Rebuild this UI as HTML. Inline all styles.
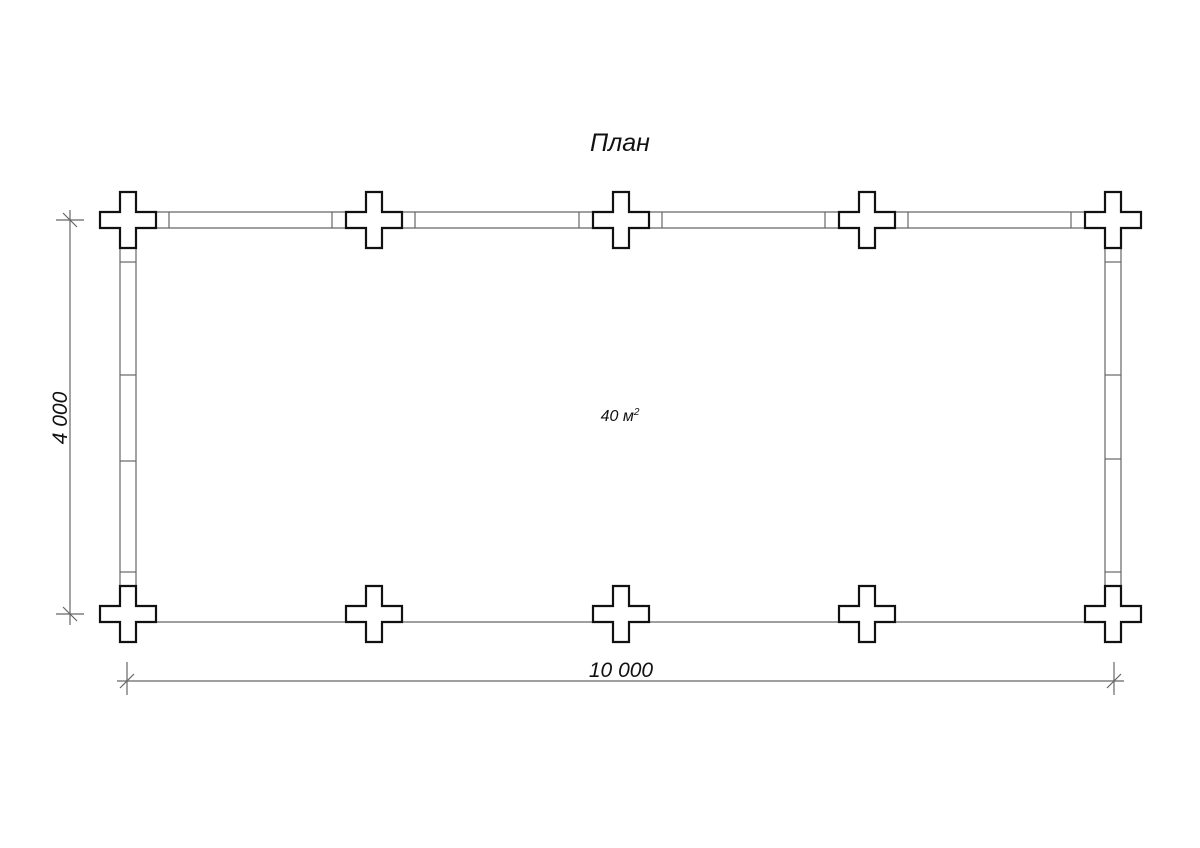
<!DOCTYPE html>
<html><head><meta charset="utf-8"><style>body{margin:0;background:#fff}svg{display:block}</style></head>
<body><svg width="1200" height="848" xmlns="http://www.w3.org/2000/svg">
<defs><path id="c" d="M-8,-28 h16 v20 h20 v16 h-20 v20 h-16 v-20 h-20 v-16 h20 z" fill="#fff" stroke="#111" stroke-width="2.2"/></defs>
<g stroke="#666" stroke-width="1.2" fill="none">
<line x1="156" y1="212" x2="1085" y2="212"/><line x1="156" y1="228" x2="1085" y2="228"/>
<line x1="169" y1="212" x2="169" y2="228"/><line x1="332" y1="212" x2="332" y2="228"/>
<line x1="415" y1="212" x2="415" y2="228"/><line x1="579" y1="212" x2="579" y2="228"/>
<line x1="662" y1="212" x2="662" y2="228"/><line x1="825" y1="212" x2="825" y2="228"/>
<line x1="908" y1="212" x2="908" y2="228"/><line x1="1071" y1="212" x2="1071" y2="228"/>
<line x1="120" y1="248" x2="120" y2="587"/><line x1="136" y1="248" x2="136" y2="587"/>
<line x1="120" y1="262" x2="136" y2="262"/><line x1="120" y1="375" x2="136" y2="375"/><line x1="120" y1="461" x2="136" y2="461"/><line x1="120" y1="572" x2="136" y2="572"/>
<line x1="1105" y1="248" x2="1105" y2="587"/><line x1="1121" y1="248" x2="1121" y2="587"/>
<line x1="1105" y1="262" x2="1121" y2="262"/><line x1="1105" y1="375" x2="1121" y2="375"/><line x1="1105" y1="459" x2="1121" y2="459"/><line x1="1105" y1="572" x2="1121" y2="572"/>
<line x1="136" y1="622" x2="1105" y2="622"/>
<line x1="70" y1="210" x2="70" y2="625"/><line x1="56" y1="220" x2="84" y2="220"/><line x1="56" y1="614" x2="84" y2="614"/>
<line x1="63" y1="213" x2="77" y2="227"/><line x1="63" y1="607" x2="77" y2="621"/>
<line x1="117" y1="681" x2="1124" y2="681"/><line x1="127" y1="662" x2="127" y2="695"/><line x1="1114" y1="662" x2="1114" y2="695"/>
<line x1="120" y1="688" x2="134" y2="674"/><line x1="1107" y1="688" x2="1121" y2="674"/>
</g>
<use href="#c" x="128" y="220"/><use href="#c" x="374" y="220"/><use href="#c" x="621" y="220"/><use href="#c" x="867" y="220"/><use href="#c" x="1113" y="220"/>
<use href="#c" x="128" y="614"/><use href="#c" x="374" y="614"/><use href="#c" x="621" y="614"/><use href="#c" x="867" y="614"/><use href="#c" x="1113" y="614"/>
<g font-family="Liberation Sans, sans-serif" font-style="italic" fill="#111" text-anchor="middle">
<text x="620" y="151" font-size="25">План</text>
<text x="620" y="421" font-size="16">40 м<tspan font-size="10" dy="-6">2</tspan></text>
<text x="621" y="677" font-size="21">10 000</text>
<text x="0" y="0" font-size="21" transform="translate(67,418) rotate(-90)">4 000</text>
</g>
</svg></body></html>
